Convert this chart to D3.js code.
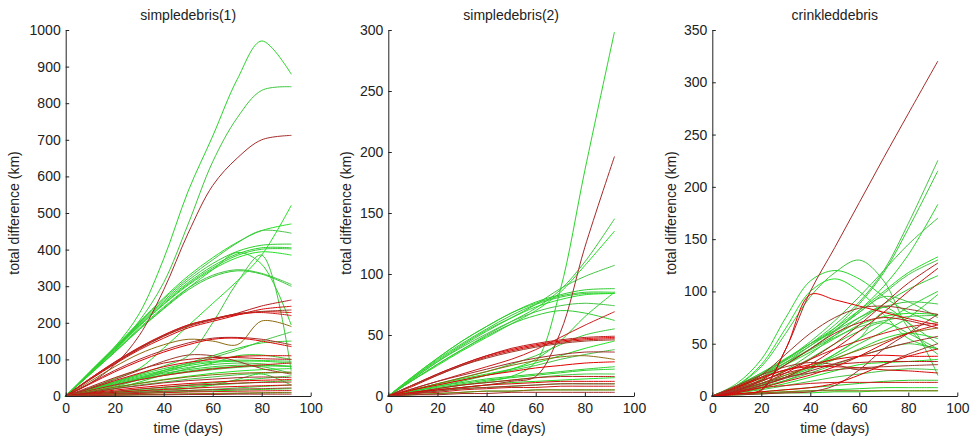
<!DOCTYPE html>
<html>
<head>
<meta charset="utf-8">
<script src="https://cdn.jsdelivr.net/npm/d3@7"></script>
<style>
  html, body { margin: 0; padding: 0; background: #fff; }
  svg { display: block; }
  text { font-family: "Liberation Sans", Arial, sans-serif; fill: #222; }
</style>
</head>
<body>
<svg id="chart" width="970" height="440"></svg>
<script>
// ---------------- DATA ----------------
const times = [0, 10, 20, 30, 40, 50, 60, 70, 80, 92];
const xTicks = [0, 20, 40, 60, 80, 100];
const titles = ["simpledebris(1)", "simpledebris(2)", "crinkleddebris"];
const yMax = [1000, 300, 350];
const yTicks1 = [0, 100, 200, 300, 400, 500, 600, 700, 800, 900, 1000];
const yTicks2 = [0, 50, 100, 150, 200, 250, 300];
const yTicks3 = [0, 50, 100, 150, 200, 250, 300, 350];
const xLabel = "time (days)";
const yLabel = "total difference (km)";

// simpledebris(1)
const p1Green = [
  [0, 66, 134, 225, 375, 560, 710, 865, 970, 880],
  [0, 65, 130, 205, 310, 470, 640, 760, 835, 845],
  [0, 68, 134, 202, 268, 328, 378, 420, 452, 470],
  [0, 66, 132, 200, 265, 322, 372, 418, 452, 445],
  [0, 65, 130, 197, 260, 316, 362, 395, 412, 415],
  [0, 64, 128, 194, 256, 310, 355, 388, 405, 405],
  [0, 63, 126, 192, 252, 306, 350, 384, 401, 402],
  [0, 62, 125, 190, 250, 303, 346, 378, 394, 385],
  [0, 60, 122, 185, 243, 295, 330, 345, 335, 305],
  [0, 59, 119, 181, 238, 290, 326, 342, 333, 300],
  [0, 60, 120, 182, 240, 295, 345, 392, 360, 195],
  [0, 18, 38, 60, 82, 110, 200, 310, 385, 70],
  [0, 22, 48, 75, 131, 192, 253, 314, 385, 520],
  [0, 10, 25, 45, 65, 85, 105, 125, 150, 175],
  [0, 12, 28, 48, 70, 90, 110, 130, 145, 150],
  [0, 8, 20, 38, 58, 75, 90, 110, 112, 100],
  [0, 20, 40, 58, 75, 88, 95, 98, 97, 95],
  [0, 19, 38, 55, 70, 83, 92, 95, 95, 90],
  [0, 18, 36, 52, 66, 78, 86, 90, 88, 80],
  [0, 17, 34, 49, 62, 72, 80, 84, 84, 80],
  [0, 16, 32, 46, 58, 68, 76, 80, 82, 82],
  [0, 15, 30, 44, 56, 65, 72, 78, 80, 62],
  [0, 12, 24, 35, 45, 54, 62, 68, 72, 75],
  [0, 10, 20, 30, 38, 46, 52, 58, 62, 65],
  [0, 6, 12, 18, 24, 30, 36, 42, 48, 55],
  [0, 5, 10, 15, 20, 25, 30, 34, 38, 42],
  [0, 3, 6, 9, 12, 15, 18, 22, 26, 30],
  [0, 2, 5, 7, 10, 12, 14, 16, 18, 20],
  [0, 1, 2, 3, 4, 5, 6, 7, 8, 9],
  [0, 4, 8, 12, 16, 20, 30, 45, 60, 30]
];
const p1Red = [
  [0, 35, 85, 165, 290, 445, 575, 650, 700, 712],
  [0, 48, 92, 132, 166, 194, 210, 222, 230, 228],
  [0, 46, 89, 129, 163, 190, 208, 226, 246, 262],
  [0, 45, 87, 126, 158, 186, 204, 221, 237, 245],
  [0, 47, 91, 130, 164, 192, 210, 225, 231, 235],
  [0, 48, 93, 133, 167, 194, 211, 224, 228, 220],
  [0, 40, 80, 115, 140, 155, 150, 140, 205, 190],
  [0, 35, 70, 100, 125, 145, 158, 160, 155, 140],
  [0, 33, 66, 95, 120, 140, 155, 158, 150, 135],
  [0, 25, 50, 72, 90, 100, 105, 105, 102, 100],
  [0, 20, 42, 62, 80, 92, 100, 108, 110, 110],
  [0, 22, 45, 70, 95, 112, 110, 95, 75, 60],
  [0, 15, 30, 44, 56, 66, 74, 80, 85, 90],
  [0, 12, 24, 34, 44, 52, 58, 62, 64, 65],
  [0, 10, 20, 28, 36, 42, 46, 50, 52, 50],
  [0, 8, 16, 23, 29, 34, 38, 41, 43, 45],
  [0, 7, 13, 19, 24, 29, 32, 35, 37, 38],
  [0, 5, 10, 14, 18, 21, 24, 26, 28, 30],
  [0, 4, 7, 10, 13, 15, 17, 19, 20, 22],
  [0, 3, 5, 7, 9, 11, 12, 13, 14, 15],
  [0, 2, 3, 4, 5, 6, 7, 8, 9, 10],
  [0, 1, 2, 3, 3, 4, 4, 5, 5, 5]
];

// simpledebris(2)
const p2Green = [
  [0, 3, 6, 9, 12, 16, 28, 87, 185, 298],
  [0, 13, 26, 38, 50, 61, 72, 87, 110, 145],
  [0, 13, 25, 37, 48, 59, 70, 85, 107, 135],
  [0, 14, 28, 41, 53, 64, 75, 88, 98, 107],
  [0, 16, 31, 45, 57, 68, 77, 83, 87, 88],
  [0, 16, 31, 45, 57, 68, 76, 82, 85, 85],
  [0, 15, 30, 43, 55, 66, 75, 81, 84, 84],
  [0, 15, 29, 42, 54, 64, 73, 79, 83, 84],
  [0, 14, 28, 40, 51, 61, 69, 74, 76, 74],
  [0, 13, 26, 38, 49, 59, 66, 70, 68, 62],
  [0, 4, 8, 12, 17, 22, 30, 45, 65, 85],
  [0, 5, 10, 15, 20, 26, 33, 42, 50, 55],
  [0, 5, 10, 14, 18, 22, 27, 33, 39, 45],
  [0, 5, 9, 13, 17, 21, 25, 30, 34, 38],
  [0, 4, 8, 11, 14, 16, 18, 20, 22, 24],
  [0, 4, 7, 10, 13, 15, 17, 19, 21, 22],
  [0, 3, 6, 9, 11, 13, 15, 17, 18, 18],
  [0, 3, 5, 7, 9, 11, 12, 13, 14, 15],
  [0, 2, 4, 6, 7, 8, 9, 10, 10, 10],
  [0, 1, 2, 3, 4, 4, 5, 5, 5, 5]
];
const p2Red = [
  [0, 2, 5, 7, 9, 12, 16, 52, 122, 196],
  [0, 9, 18, 26, 33, 38, 42, 45, 47, 48],
  [0, 9, 18, 26, 33, 39, 43, 46, 48, 49],
  [0, 8, 17, 25, 32, 37, 41, 44, 46, 47],
  [0, 9, 17, 25, 31, 36, 40, 43, 45, 46],
  [0, 6, 12, 18, 24, 30, 38, 48, 58, 69],
  [0, 5, 10, 15, 20, 25, 29, 32, 33, 30],
  [0, 6, 12, 17, 22, 27, 31, 34, 36, 36],
  [0, 5, 9, 13, 17, 20, 23, 25, 27, 28],
  [0, 3, 6, 9, 11, 13, 15, 16, 16, 16],
  [0, 3, 5, 7, 9, 10, 11, 12, 12, 12],
  [0, 2, 4, 6, 7, 8, 9, 10, 10, 10],
  [0, 2, 3, 5, 6, 7, 7, 8, 8, 8],
  [0, 1, 2, 3, 4, 4, 5, 5, 5, 5],
  [0, 1, 1, 2, 2, 3, 3, 3, 3, 3]
];

// crinkleddebris
const p3Green = [
  [0, 12, 35, 75, 110, 120, 112, 95, 80, 70],
  [0, 10, 28, 60, 95, 118, 130, 110, 65, 40],
  [0, 10, 30, 65, 100, 112, 100, 78, 55, 45],
  [0, 8, 20, 35, 50, 68, 90, 120, 165, 225],
  [0, 7, 18, 32, 48, 65, 88, 118, 160, 215],
  [0, 6, 16, 30, 45, 62, 82, 105, 135, 183],
  [0, 8, 20, 35, 52, 72, 95, 120, 145, 170],
  [0, 10, 22, 36, 50, 65, 82, 100, 118, 133],
  [0, 9, 21, 34, 48, 63, 80, 98, 116, 130],
  [0, 9, 20, 32, 45, 58, 72, 88, 102, 115],
  [0, 5, 12, 20, 28, 38, 50, 62, 75, 97],
  [0, 10, 22, 35, 50, 62, 75, 85, 90, 88],
  [0, 8, 18, 30, 42, 55, 68, 76, 79, 78],
  [0, 9, 20, 32, 44, 56, 66, 72, 76, 77],
  [0, 6, 14, 24, 36, 50, 62, 70, 60, 45],
  [0, 5, 11, 18, 26, 35, 45, 55, 60, 55],
  [0, 4, 9, 15, 22, 30, 38, 45, 50, 45],
  [0, 3, 7, 12, 18, 24, 30, 32, 33, 35],
  [0, 3, 6, 10, 14, 18, 21, 24, 26, 25],
  [0, 2, 4, 6, 8, 10, 12, 14, 15, 15],
  [0, 2, 3, 4, 5, 6, 7, 8, 8, 8],
  [0, 4, 8, 15, 25, 40, 55, 80, 70, 20],
  [0, 1, 2, 3, 3, 4, 4, 5, 5, 5],
  [0, 8, 18, 30, 45, 62, 80, 95, 90, 75],
  [0, 6, 14, 25, 40, 58, 75, 85, 70, 50],
  [0, 4, 10, 18, 28, 40, 55, 70, 85, 100]
];
const p3Red = [
  [0, 2, 5, 45, 100, 142, 185, 228, 270, 320],
  [0, 2, 6, 45, 97, 92, 86, 80, 74, 68],
  [0, 5, 12, 22, 35, 50, 68, 88, 108, 127],
  [0, 4, 10, 18, 30, 45, 62, 80, 100, 122],
  [0, 8, 20, 40, 60, 75, 84, 86, 83, 78],
  [0, 6, 14, 24, 35, 45, 53, 60, 66, 70],
  [0, 5, 12, 20, 28, 36, 44, 52, 60, 65],
  [0, 4, 10, 17, 24, 31, 38, 45, 51, 57],
  [0, 8, 17, 25, 30, 35, 38, 39, 38, 38],
  [0, 7, 15, 22, 27, 30, 32, 33, 33, 33],
  [0, 9, 18, 25, 28, 28, 27, 25, 24, 22],
  [0, 6, 12, 18, 22, 25, 27, 28, 29, 30],
  [0, 4, 8, 10, 12, 13, 13, 13, 13, 13],
  [0, 2, 3, 4, 5, 5, 5, 5, 5, 5],
  [0, 1, 2, 3, 4, 10, 25, 45, 60, 78],
  [0, 2, 4, 6, 8, 12, 20, 30, 38, 45],
  [0, 5, 15, 30, 45, 60, 70, 75, 72, 65],
  [0, 3, 8, 14, 20, 28, 38, 50, 60, 68],
  [0, 10, 20, 28, 32, 30, 25, 30, 40, 50]
];

const panelsData = [
  { title: titles[0], yMax: yMax[0], yTicks: yTicks1, green: p1Green, red: p1Red },
  { title: titles[1], yMax: yMax[1], yTicks: yTicks2, green: p2Green, red: p2Red },
  { title: titles[2], yMax: yMax[2], yTicks: yTicks3, green: p3Green, red: p3Red }
];

// ---------------- LAYOUT / STYLE ----------------
const layout = [
  { left: 65.7, right: 310.7, ylabX: 15 },
  { left: 388.3, right: 634, ylabX: 346.7 },
  { left: 712.3, right: 957.3, ylabX: 671.7 }
];
const plotTop = 30, plotBottom = 396;
const greenPalette = ["#2ad42a", "#3cc83c", "#22e022", "#45c445", "#30cc30"];
const redPalette = ["#a52a2a", "#e00000", "#b81c1c", "#d40a0a", "#9a3a2a", "#cc1a1a", "#8c6a10"];

const svg = d3.select("#chart");

panelsData.forEach((p, i) => {
  const L = layout[i];
  const x = d3.scaleLinear().domain([0, 100]).range([L.left, L.right]);
  const y = d3.scaleLinear().domain([0, p.yMax]).range([plotBottom, plotTop]);
  const g = svg.append("g");

  const line = d3.line()
    .x((d, k) => x(times[k]))
    .y(d => y(d))
    .curve(d3.curveCatmullRom.alpha(0.5));

  const lines = g.append("g").attr("fill", "none").attr("stroke-width", 1)
    .attr("stroke-linejoin", "round").attr("stroke-linecap", "round");

  lines.selectAll("path.gr").data(p.green).join("path")
    .attr("class", "gr")
    .attr("d", line)
    .attr("stroke", (d, k) => greenPalette[k % greenPalette.length]);

  lines.selectAll("path.rd").data(p.red).join("path")
    .attr("class", "rd")
    .attr("d", line)
    .attr("stroke", (d, k) => redPalette[k % redPalette.length]);

  // axes
  const xAxis = d3.axisBottom(x).tickValues(xTicks).tickFormat(d3.format("d"))
    .tickSizeInner(-3.5).tickSizeOuter(0).tickPadding(7);
  const yAxis = d3.axisLeft(y).tickValues(p.yTicks).tickFormat(d3.format("d"))
    .tickSizeInner(-3.5).tickSizeOuter(0).tickPadding(5);

  const gx = g.append("g").attr("transform", `translate(0,${plotBottom})`).call(xAxis);
  const gy = g.append("g").attr("transform", `translate(${L.left},0)`).call(yAxis);
  [gx, gy].forEach(a => {
    a.selectAll("path, line").attr("stroke", "#222");
    a.selectAll("text").style("font-size", "14px").style("fill", "#222")
      .style("font-family", "'Liberation Sans', Arial, sans-serif");
  });

  g.append("text")
    .attr("x", (L.left + L.right) / 2).attr("y", 20)
    .attr("text-anchor", "middle").style("font-size", "14px")
    .text(p.title);

  g.append("text")
    .attr("x", (L.left + L.right) / 2).attr("y", 433)
    .attr("text-anchor", "middle").style("font-size", "14px")
    .text(xLabel);

  g.append("text")
    .attr("transform", `translate(${L.ylabX + 4},${(plotTop + plotBottom) / 2}) rotate(-90)`)
    .attr("text-anchor", "middle").style("font-size", "14px")
    .text(yLabel);
});
</script>
</body>
</html>
